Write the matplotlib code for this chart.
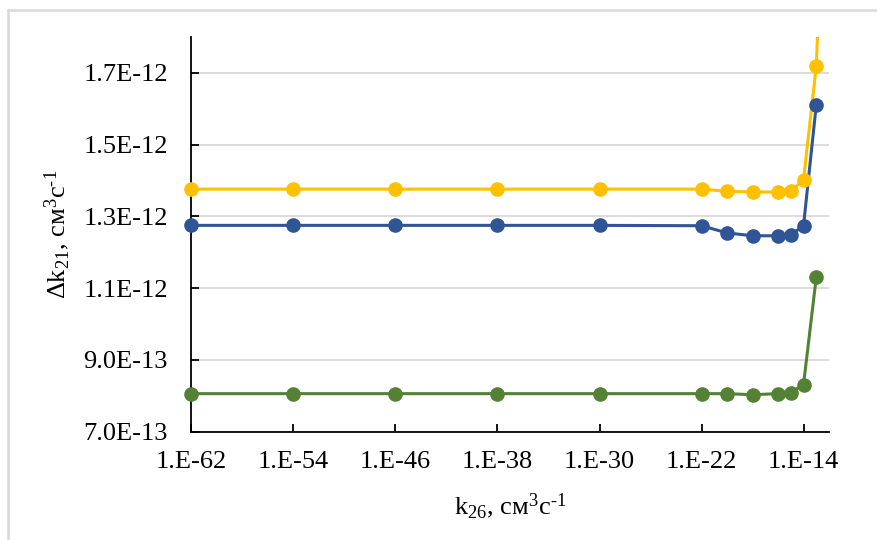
import numpy as np
import matplotlib
matplotlib.use('Agg')
import matplotlib.pyplot as plt
from matplotlib.lines import Line2D

plt.rcParams['font.family'] = ['Liberation Serif', 'DejaVu Serif']
plt.rcParams['mathtext.fontset'] = 'custom'
plt.rcParams['mathtext.rm'] = 'Liberation Serif'
plt.rcParams['mathtext.it'] = 'Liberation Serif:italic'

# k26 values (cm^3 s^-1)
k26 = [1e-62, 1e-54, 1e-46, 1e-38, 1e-30, 1e-22, 1e-20, 1e-18, 1e-16, 1e-15, 1e-14, 1e-13]
# yellow series has one more point off the top of the chart
k26_yellow = k26 + [1e-12]

dk21_yellow = [1.376e-12, 1.376e-12, 1.376e-12, 1.376e-12, 1.376e-12, 1.376e-12,
               1.370e-12, 1.368e-12, 1.368e-12, 1.370e-12, 1.402e-12, 1.718e-12, 2.6e-12]
dk21_blue = [1.275e-12, 1.275e-12, 1.275e-12, 1.275e-12, 1.275e-12, 1.274e-12,
             1.254e-12, 1.246e-12, 1.246e-12, 1.248e-12, 1.274e-12, 1.610e-12]
dk21_green = [0.806e-12, 0.806e-12, 0.806e-12, 0.806e-12, 0.806e-12, 0.806e-12,
              0.806e-12, 0.803e-12, 0.806e-12, 0.809e-12, 0.831e-12, 1.130e-12]

xticks = [1e-62, 1e-54, 1e-46, 1e-38, 1e-30, 1e-22, 1e-14]
xtick_labels = ['1.E-62', '1.E-54', '1.E-46', '1.E-38', '1.E-30', '1.E-22', '1.E-14']
yticks = [0.7e-12, 0.9e-12, 1.1e-12, 1.3e-12, 1.5e-12, 1.7e-12]
ytick_labels = ['7.0E-13', '9.0E-13', '1.1E-12', '1.3E-12', '1.5E-12', '1.7E-12']

fig = plt.figure(figsize=(8.78, 5.4), dpi=100)
ax = fig.add_axes([0.2181, 0.2006, 0.7261, 0.7309])

series = [
    (k26_yellow, dk21_yellow, '#FFC000'),
    (k26, dk21_blue, '#2F5597'),
    (k26, dk21_green, '#548235'),
]
for xs, ys, col in series:
    ax.plot(xs, ys, color=col, lw=2.2, zorder=3)
    ax.plot(xs[:len(k26)], ys[:len(k26)], 'o', color=col, ms=9.5, clip_on=False, zorder=4)

ax.set_xscale('log')
ax.set_xlim(1e-62, 1e-12)
ax.set_ylim(0.7e-12, 1.8e-12)
ax.set_xticks(xticks)
ax.set_xticklabels(xtick_labels)
ax.minorticks_off()
ax.set_yticks(yticks)
ax.set_yticklabels(ytick_labels)

ax.yaxis.grid(True, color='#d9d9d9', lw=1.3)
ax.set_axisbelow(True)
for s in ['top', 'right']:
    ax.spines[s].set_visible(False)
for s in ['left', 'bottom']:
    ax.spines[s].set_linewidth(1.3)
    ax.spines[s].set_color('black')

ax.tick_params(axis='both', direction='in', length=6, width=1.3, labelsize=19)
ax.tick_params(axis='y', pad=17)
ax.tick_params(axis='x', pad=14)

ax.set_xlabel('k$_{26}$, см$^{3}$с$^{\\text{-1}}$', fontsize=19, labelpad=13)
ax.set_ylabel('Δk$_{21}$, см$^{3}$с$^{\\text{-1}}$', fontsize=19, labelpad=8)

# light chart-area border (left and top visible)
fig.add_artist(Line2D([8 / 878, 8 / 878], [0, 1 - 10 / 540], color='#d9d9d9', lw=1.8,
                      transform=fig.transFigure))
fig.add_artist(Line2D([8 / 878, 1], [1 - 10 / 540, 1 - 10 / 540], color='#d9d9d9', lw=1.8,
                      transform=fig.transFigure))

fig.savefig('out.png', dpi=100)
